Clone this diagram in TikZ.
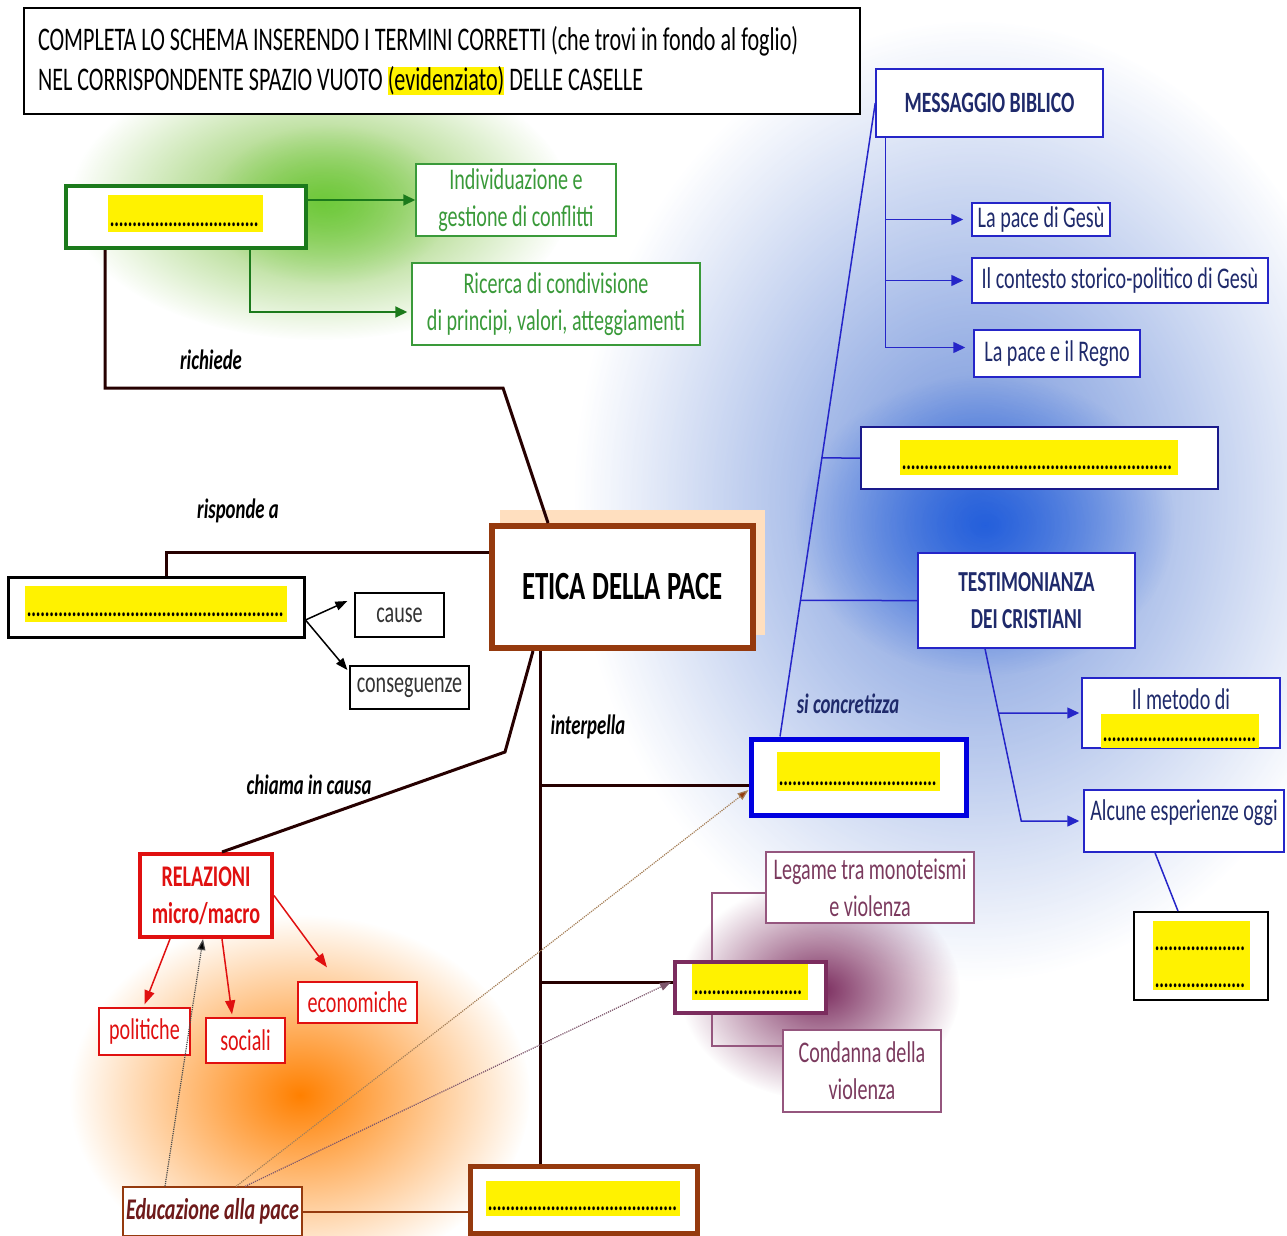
\documentclass[tikz,border=0pt]{standalone}
\usepackage{fontspec}
\setmainfont{Carlito}[FakeStretch=0.67]
\usetikzlibrary{arrows.meta,fadings}

\definecolor{verdescuro}{HTML}{1B7A1B}
\definecolor{verdetesto}{HTML}{3A9A3A}
\definecolor{verdealone}{HTML}{7DC242}
\definecolor{marrone}{HTML}{953A0E}
\definecolor{blu}{HTML}{0000E0}
\definecolor{bluchiaro}{HTML}{2525C8}
\definecolor{blualone}{HTML}{3A68CC}
\definecolor{bluforte}{HTML}{1656DC}
\definecolor{blutesto}{HTML}{1F2A6B}
\definecolor{viola}{HTML}{7B2C5E}
\definecolor{violatesto}{HTML}{7B3A5E}
\definecolor{rosso}{HTML}{E01010}
\definecolor{eductesto}{HTML}{6E1A1A}

\tikzfading[name=alone, inner color=transparent!0, outer color=transparent!100]

% riga di puntini da completare
\newcommand\puntini[1]{\hbox to #1{\leaders\hbox to 4.5pt{\hss.\hss}\hfill}}

\tikzset{
  casella/.style={draw, fill=white, inner sep=0pt, align=center,
    font=\fontsize{30}{37}\selectfont},
  giallo/.style 2 args={fill=yellow, inner sep=0pt, minimum width=#1,
    text height=#2, text depth=6pt, font=\fontsize{26}{30}\bfseries\selectfont},
  etichetta/.style={inner sep=0pt, font=\fontsize{28}{30}\bfseries\itshape\selectfont},
  linea/.style={line width=3pt, black!85!red},
  freccia/.style={-{Triangle[length=12pt,width=11pt]}},
  puntinato/.style={densely dotted, line width=1.2pt, brown!60!gray,
    -{Triangle[length=11pt,width=8pt]}}
}

\begin{document}
\begin{tikzpicture}[x=1pt,y=-1pt]
\useasboundingbox (0,0) rectangle (1287,1236);

% aloni colorati
\fill[blualone, opacity=0.75, path fading=alone] (975,500) ellipse [x radius=400pt, y radius=480pt];
\fill[bluforte, opacity=0.85, path fading=alone] (985,525) ellipse [x radius=190pt, y radius=150pt];
\fill[verdealone, path fading=alone] (320,200) ellipse [x radius=250pt, y radius=140pt];
\fill[verdealone!80!green, opacity=0.6, path fading=alone] (330,205) ellipse [x radius=120pt, y radius=80pt];
\fill[orange, path fading=alone] (300,1095) ellipse [x radius=230pt, y radius=180pt];
\fill[viola, path fading=alone] (820,990) ellipse [x radius=140pt, y radius=110pt];
\fill[orange!25] (500,510) rectangle (765,635);

% titolo
\node[casella, line width=1.2pt, minimum width=836pt, minimum height=106pt,
  text width=808pt, align=flush left, font=\fontsize{33}{40}\selectfont] (titolo) at (442,61)
  {COMPLETA LO SCHEMA INSERENDO I TERMINI CORRETTI (che trovi in fondo al foglio)\\
   NEL CORRISPONDENTE SPAZIO VUOTO {\setlength\fboxsep{0pt}\colorbox{yellow}{(evidenziato)}} DELLE CASELLE};

% ramo verde
\node[casella, draw=verdescuro, line width=4pt, minimum width=240pt, minimum height=62pt] (verde) at (186,217) {};
\node[giallo={155pt}{31pt}] (gverde) at (185.5,213.5) {\puntini{151pt}};
\node[casella, draw=verdetesto, line width=1.5pt, text=verdetesto, minimum width=200pt, minimum height=72pt] (indiv) at (516,200)
  {Individuazione e\\gestione di conflitti};
\node[casella, draw=verdetesto, line width=1.5pt, text=verdetesto, minimum width=288pt, minimum height=82pt] (ricerca) at (556,304)
  {Ricerca di condivisione\\di principi, valori, atteggiamenti};

% centro
\node[casella, draw=marrone, line width=6pt, minimum width=261pt, minimum height=122pt,
  font=\fontsize{40}{44}\bfseries\selectfont] (etica) at (622.5,587) {ETICA DELLA PACE};

% ramo sinistro
\node[casella, line width=3pt, minimum width=296pt, minimum height=60pt] (risp) at (156,607) {};
\node[giallo={262pt}{30pt}] (grisp) at (156,604) {\puntini{258pt}};
\node[casella, line width=1.2pt, text=black!80, minimum width=89pt, minimum height=44pt] (cause) at (399.5,615) {cause};
\node[casella, line width=1.2pt, text=black!80, minimum width=119pt, minimum height=43pt] (conseg) at (409.5,687.5) {conseguenze};

% relazioni
\node[casella, draw=rosso, line width=4pt, text=rosso, minimum width=132pt, minimum height=83pt,
  font=\fontsize{30}{37}\bfseries\selectfont] (relaz) at (206,895.5) {RELAZIONI\\micro/macro};
\node[casella, draw=rosso, line width=1.2pt, text=rosso, minimum width=91pt, minimum height=47pt] (polit) at (144.5,1031.5) {politiche};
\node[casella, draw=rosso, line width=1.2pt, text=rosso, minimum width=79pt, minimum height=45pt] (social) at (245.5,1040.5) {sociali};
\node[casella, draw=rosso, line width=1.2pt, text=rosso, minimum width=119pt, minimum height=41pt] (econ) at (357.5,1002.5) {economiche};

% educazione
\node[casella, draw=marrone, line width=1.2pt, text=eductesto, minimum width=179pt, minimum height=49pt,
  font=\fontsize{30}{37}\bfseries\itshape\selectfont] (educ) at (212.5,1211.5) {Educazione alla pace};
\node[casella, draw=marrone, line width=5pt, minimum width=227pt, minimum height=67pt] (educbox) at (583.5,1199.5) {};
\node[giallo={194pt}{29pt}] (geduc) at (583,1198.5) {\puntini{190pt}};

% violenza
\node[casella, draw=viola, line width=4pt, minimum width=151pt, minimum height=51pt] (viol) at (750.5,987.5) {};
\node[giallo={116pt}{30pt}] (gviol) at (750,982) {\puntini{112pt}};
\node[casella, draw=viola!80, line width=1.2pt, text=violatesto, minimum width=208pt, minimum height=71pt] (legame) at (870,887.5)
  {Legame tra monoteismi\\e violenza};
\node[casella, draw=viola!80, line width=1.2pt, text=violatesto, minimum width=158pt, minimum height=82pt] (condanna) at (862,1071)
  {Condanna della\\violenza};

% si concretizza
\node[casella, draw=blu, line width=5pt, minimum width=215pt, minimum height=76pt] (concr) at (858.5,777) {};
\node[giallo={163pt}{33pt}] (gconcr) at (858.5,771.5) {\puntini{159pt}};

% messaggio biblico
\node[casella, draw=bluchiaro, line width=1.5pt, text=blutesto, minimum width=227pt, minimum height=68pt,
  font=\fontsize{29.5}{35}\bfseries\selectfont] (messaggio) at (989.5,103) {MESSAGGIO BIBLICO};
\node[casella, draw=bluchiaro, line width=1.5pt, text=blutesto, minimum width=138pt, minimum height=33pt] (pacegesu) at (1041,219.5) {La pace di Gesù};
\node[casella, draw=bluchiaro, line width=1.5pt, text=blutesto, minimum width=296pt, minimum height=45pt] (contesto) at (1120,280.5) {Il contesto storico-politico di Gesù};
\node[casella, draw=bluchiaro, line width=1.5pt, text=blutesto, minimum width=166pt, minimum height=47pt] (regno) at (1057,353.5) {La pace e il Regno};
\node[casella, draw=bluchiaro!70!black, line width=1.8pt, minimum width=357pt, minimum height=62pt] (vuotoblu) at (1039.5,458) {};
\node[giallo={278pt}{29pt}] (gvuoto) at (1039,457.5) {\puntini{274pt}};

% testimonianza
\node[casella, draw=bluchiaro, line width=1.5pt, text=blutesto, minimum width=217pt, minimum height=95pt,
  font=\fontsize{29}{37}\bfseries\selectfont] (testim) at (1026.5,600.5) {TESTIMONIANZA\\DEI CRISTIANI};
\node[casella, draw=bluchiaro, line width=1.5pt, text=blutesto, minimum width=198pt,
  text height=31pt, text depth=39pt] (metodo) at (1181,713) {Il metodo di};
\node[giallo={158pt}{28pt}, anchor=south] (gmetodo) at (1180,748) {\puntini{154pt}};
\node[casella, draw=bluchiaro, line width=1.5pt, text=blutesto, minimum width=200pt,
  text height=30pt, text depth=32pt] (alcune) at (1184,821) {Alcune esperienze oggi};
\node[casella, line width=1.8pt, minimum width=134pt, minimum height=88pt] (esper) at (1201,956) {};
\node[fill=yellow, inner sep=0pt, minimum width=97pt, text height=66pt, text depth=3pt,
  font=\fontsize{26}{37}\bfseries\selectfont] (gesper) at (1201.5,955.5)
  {\vbox{\hbox{\puntini{93pt}}\hbox{\puntini{93pt}}}};

% etichette
\node[etichetta] (lrichiede) at (211,360) {richiede};
\node[etichetta] (lrisponde) at (238,511) {risponde a};
\node[etichetta] (lchiama) at (309,785) {chiama in causa};
\node[etichetta] (linterpella) at (588,727) {interpella};
\node[etichetta, text=blutesto] (lconcr) at (848,704) {si concretizza};

% collegamenti
\coordinate (kr) at (503,388);
\coordinate (kc) at (505,752);
\draw[linea] ([xshift=-81pt]verde.south) |- (kr) -- ([xshift=-74.5pt]etica.north);
\draw[linea] ([yshift=35pt]etica.west) -| ([xshift=10pt]risp.north);
\draw[linea] ([xshift=-89.5pt]etica.south) -- (kc) -- ([xshift=16pt]relaz.north);
\draw[linea] ([xshift=-82.5pt]etica.south) -- ([xshift=-43.5pt]educbox.north);
\draw[linea] ([yshift=-8pt]concr.west) -| ([xshift=-82.5pt]etica.south);
\draw[linea] ([yshift=5.5pt]viol.west) -| ([xshift=-82.5pt]etica.south);

\draw[freccia, verdescuro, line width=2pt] (verde.east |- indiv.west) -- (indiv.west);
\draw[freccia, verdescuro, line width=2pt] ([xshift=64pt]verde.south) |- ([xshift=-4pt,yshift=-8pt]ricerca.west);

\draw[-{Triangle[length=12pt,width=9pt]}, line width=1.5pt] ([yshift=-13pt]risp.east) -- ([xshift=-7pt,yshift=14pt]cause.west);
\draw[-{Triangle[length=12pt,width=9pt]}, line width=1.5pt] ([yshift=-13pt]risp.east) -- ([xshift=-2pt,yshift=17.5pt]conseg.west);

\draw[rosso, line width=1.5pt, -{Triangle[length=14pt,width=10pt]}] ([xshift=-36pt]relaz.south) -- ([yshift=3pt]polit.north);
\draw[rosso, line width=1.5pt, -{Triangle[length=14pt,width=10pt]}] ([xshift=16pt]relaz.south) -- ([xshift=-13.5pt,yshift=3pt]social.north);
\draw[rosso, line width=1.5pt, -{Triangle[length=14pt,width=10pt]}] (relaz.east) -- ([xshift=-30.5pt,yshift=14pt]econ.north);

\draw[marrone, line width=2pt] (educ.east) -- (educ.east -| educbox.west);
\draw[puntinato, black!70, -{Triangle[length=11pt,width=8pt,fill=black]}] ([xshift=-47.5pt]educ.north) -- ([xshift=-3pt]relaz.south);
\draw[puntinato, {-Triangle[length=11pt,width=8pt,fill=marrone]}] ([xshift=23.5pt]educ.north) -- ([yshift=-13pt]concr.west);
\draw[puntinato, violatesto!60!gray] ([xshift=32.5pt]educ.north) -- ([xshift=-2pt,yshift=5.5pt]viol.west);

\draw[viola!80, line width=1.2pt] ([yshift=-5.5pt]legame.west) -| ([xshift=39pt]viol.north west);
\draw[viola!80, line width=1.2pt] ([xshift=39pt]viol.south west) |- ([yshift=25pt]condanna.west);

\coordinate (s0) at ([xshift=-78.5pt]concr.north);
\draw[bluchiaro, line width=1.5pt] (s0) -- (messaggio.west);
\draw[bluchiaro, line width=1.5pt] (intersection of s0--messaggio.west and vuotoblu.west--vuotoblu.east) -- (vuotoblu.west);
\draw[bluchiaro, line width=1.5pt] (intersection of s0--messaggio.west and testim.west--testim.east) -- (testim.west);

\draw[freccia, bluchiaro, line width=1.5pt, shorten >=8pt] ([xshift=10pt]messaggio.south west) |- (pacegesu.west);
\draw[freccia, bluchiaro, line width=1.5pt, shorten >=8pt] ([xshift=10pt]messaggio.south west) |- (contesto.west);
\draw[freccia, bluchiaro, line width=1.5pt, shorten >=8pt] ([xshift=10pt]messaggio.south west) |- ([yshift=6pt]regno.west);

\coordinate (ts) at ([xshift=-41.5pt]testim.south);
\coordinate (tq) at ([xshift=-62pt]alcune.west);
\draw[freccia, bluchiaro, line width=1.5pt, shorten >=4pt] (ts) -- (tq) -- (alcune.west);
\draw[freccia, bluchiaro, line width=1.5pt, shorten >=2pt] (intersection of ts--tq and metodo.west--metodo.east) -- (metodo.west);
\draw[bluchiaro, line width=1.5pt] ([xshift=-29pt]alcune.south) -- ([xshift=-23pt]esper.north);
\end{tikzpicture}
\end{document}
